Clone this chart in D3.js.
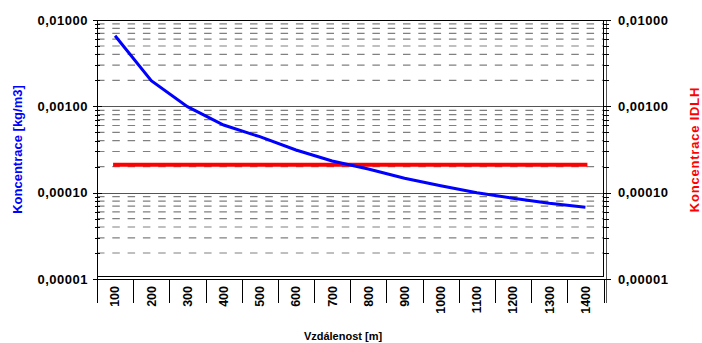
<!DOCTYPE html>
<html><head><meta charset="utf-8">
<script src="https://cdn.jsdelivr.net/npm/d3@7"></script>
<style>body{margin:0;background:#fff}svg{display:block}text{font-family:Arial,"Liberation Sans",sans-serif;font-weight:bold}</style>
</head><body><svg id="c" width="702" height="343"></svg>
<script>
const categories = ["100","200","300","400","500","600","700","800","900","1000","1100","1200","1300","1400"];
const concentration = [0.00658,0.00198,0.00099,0.000608,0.000445,0.000312,0.000233,0.000188,0.000147,0.000120,0.000100,0.0000861,0.0000753,0.0000677];
const idlh = [0.00021,0.00021,0.00021,0.00021,0.00021,0.00021,0.00021,0.00021,0.00021,0.00021,0.00021,0.00021,0.00021,0.00021];
const yTickValues = [0.00001,0.0001,0.001,0.01];
const yTickLabels = ["0,00001","0,00010","0,00100","0,01000"];
const leftTitle = "Koncentrace [kg/m3]";
const rightTitle = "Koncentrace IDLH";
const xTitle = "Vzdálenost [m]";

const svg = d3.select("#c");
const L = 97, R = 603.5, T = 20, B = 279;
const x = d3.scaleBand().domain(categories).range([L, R]);
const y = d3.scaleLog().domain([1e-5, 1e-2]).range([B, T]);

// minor gridlines
const minors = [];
[1e-5,1e-4,1e-3].forEach(d => { for (let k = 2; k <= 9; k++) minors.push(k*d); });
svg.append("g").selectAll("line").data(minors).join("line")
  .attr("x1", L).attr("x2", R).attr("y1", d => y(d)).attr("y2", d => y(d))
  .attr("stroke", "#808080").attr("stroke-width", 1.2).attr("stroke-dasharray", "7.5,7.8");
// major gridlines
svg.append("g").selectAll("line").data([1e-4,1e-3]).join("line")
  .attr("x1", L).attr("x2", R).attr("y1", d => Math.round(y(d))+0.5).attr("y2", d => Math.round(y(d))+0.5)
  .attr("stroke", "#555").attr("stroke-width", 1);
// plot border
svg.append("rect").attr("x", L+0.5).attr("y", T+0.5).attr("width", R-L-0.5).attr("height", 276-T)
  .attr("fill", "none").attr("stroke", "#000").attr("stroke-width", 1);

// left axis
const gl = svg.append("g");
gl.append("line").attr("x1", L+0.5).attr("x2", L+0.5).attr("y1", T).attr("y2", 303).attr("stroke", "#000");
gl.selectAll(".mj").data(yTickValues).join("line").attr("class","mj")
  .attr("x1", L-4).attr("x2", L+5).attr("y1", d => Math.round(y(d))+0.5).attr("y2", d => Math.round(y(d))+0.5).attr("stroke", "#000");
gl.selectAll(".mn").data(minors).join("line").attr("class","mn")
  .attr("x1", L-2).attr("x2", L+3).attr("y1", d => Math.round(y(d))+0.5).attr("y2", d => Math.round(y(d))+0.5).attr("stroke", "#000");
gl.selectAll("text").data(yTickValues).join("text")
  .attr("x", 88).attr("y", d => y(d)).attr("dy", "0.35em").attr("text-anchor", "end")
  .attr("font-size", 13).attr("letter-spacing", 0.5)
  .text((d,i) => yTickLabels[i]);

// right axis
const RA = 606;
const gr = svg.append("g");
gr.append("line").attr("x1", RA+0.5).attr("x2", RA+0.5).attr("y1", T).attr("y2", 303).attr("stroke", "#555");
gr.selectAll(".mj").data(yTickValues).join("line").attr("class","mj")
  .attr("x1", RA-3).attr("x2", RA+5).attr("y1", d => Math.round(y(d))+0.5).attr("y2", d => Math.round(y(d))+0.5).attr("stroke", "#000");
gr.selectAll(".mn").data(minors).join("line").attr("class","mn")
  .attr("x1", RA-2).attr("x2", RA+3).attr("y1", d => Math.round(y(d))+0.5).attr("y2", d => Math.round(y(d))+0.5).attr("stroke", "#000");
gr.selectAll("text").data(yTickValues).join("text")
  .attr("x", 618).attr("y", d => y(d)).attr("dy", "0.35em").attr("text-anchor", "start")
  .attr("font-size", 13).attr("letter-spacing", 0.5)
  .text((d,i) => yTickLabels[i]);

// x axis
const gx = svg.append("g");
gx.append("line").attr("x1", L).attr("x2", RA).attr("y1", B+0.5).attr("y2", B+0.5).attr("stroke", "#000");
const bounds = categories.map(c => x(c)).concat([R]);
gx.selectAll(".tk").data(bounds).join("line").attr("class","tk")
  .attr("x1", d => Math.round(d)+0.5).attr("x2", d => Math.round(d)+0.5).attr("y1", B).attr("y2", 303).attr("stroke", "#000");
gx.selectAll("text").data(categories).join("text")
  .attr("transform", d => `translate(${x(d)+x.bandwidth()/2},286) rotate(-90)`)
  .attr("text-anchor", "end").attr("dy", "0.35em").attr("font-size", 12.5)
  .text(d => d);

// titles
svg.append("text").attr("transform", `translate(17,${(T+B)/2}) rotate(-90)`)
  .attr("text-anchor", "middle").attr("dy", "0.35em").attr("font-size", 13).attr("fill", "#0000ff").text(leftTitle);
svg.append("text").attr("transform", `translate(694,${(T+B)/2}) rotate(-90)`)
  .attr("text-anchor", "middle").attr("dy", "0.35em").attr("font-size", 13).attr("fill", "#ff0000").attr("letter-spacing", 0.8).text(rightTitle);
svg.append("text").attr("x", 343).attr("y", 340).attr("text-anchor", "middle")
  .attr("font-size", 11).text(xTitle);

// series
const line = d3.line().x((d,i) => x(categories[i]) + x.bandwidth()/2).y(d => y(d));
svg.append("path").datum(idlh).attr("d", line).attr("fill", "none").attr("stroke", "#ff0000").attr("stroke-width", 4).attr("stroke-linecap", "square");
svg.append("path").datum(concentration).attr("d", line).attr("fill", "none").attr("stroke", "#0000ff").attr("stroke-width", 3);
</script></body></html>
